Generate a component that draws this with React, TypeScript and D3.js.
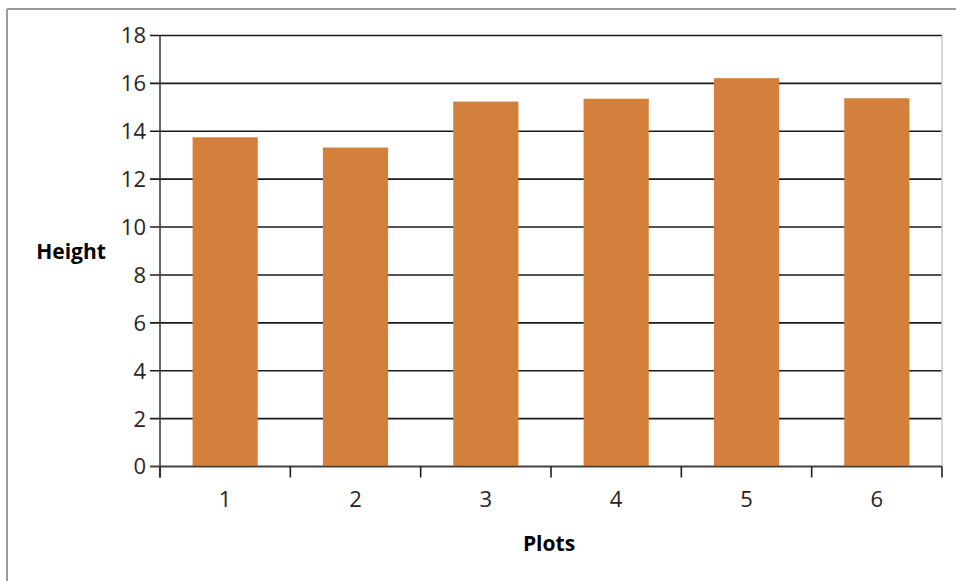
import React from "react";
import * as d3 from "d3";

const categories = ["1", "2", "3", "4", "5", "6"];
const heights = [13.75, 13.32, 15.24, 15.36, 16.22, 15.38];
const yTicks = [0, 2, 4, 6, 8, 10, 12, 14, 16, 18];

const W = 956;
const H = 581;
const left = 160;
const right = 942;
const top = 35.5;
const bottom = 466.5;
const font = "'Open Sans', 'Segoe UI', sans-serif";

export default function App() {
  const x = d3.scaleBand<string>().domain(categories).range([left, right]).paddingInner(0.5).paddingOuter(0.25);
  const y = d3.scaleLinear().domain([0, 18]).range([bottom, top]);
  const bandEdges = d3.range(categories.length + 1).map((i) => left + (i * (right - left)) / categories.length);

  return (
    <svg width={W} height={H} style={{ position: "absolute", left: 0, top: 0, background: "#fff" }}>
      <rect x={0} y={0} width={W} height={H} fill="#fff" />
      {/* outer frame */}
      <line x1={7} x2={W} y1={9} y2={9} stroke="#9a9a9a" strokeWidth={2} />
      <line x1={7} x2={7} y1={9} y2={H} stroke="#9a9a9a" strokeWidth={2} />
      {/* gridlines */}
      {yTicks.map((t) => (
        <line key={t} x1={150} x2={right} y1={y(t)} y2={y(t)} stroke="#1a1a1a" strokeWidth={1.6} />
      ))}
      {/* right plot border */}
      <line x1={right} x2={right} y1={top} y2={bottom} stroke="#c8c8c8" strokeWidth={1.5} />
      {/* bars */}
      {heights.map((v, i) => (
        <rect
          key={i}
          x={x(categories[i])!}
          y={y(v)}
          width={x.bandwidth()}
          height={y(0) - y(v)}
          fill="#D3803C"
        />
      ))}
      {/* axes */}
      <line x1={left} x2={left} y1={top} y2={bottom + 11} stroke="#404040" strokeWidth={1.6} />
      <line x1={150} x2={right} y1={bottom} y2={bottom} stroke="#404040" strokeWidth={1.6} />
      {bandEdges.map((e, i) => (
        <line key={i} x1={e} x2={e} y1={bottom} y2={bottom + 11} stroke="#202020" strokeWidth={1.6} />
      ))}
      {/* y tick labels */}
      {yTicks.map((t) => (
        <text
          key={t}
          x={146}
          y={y(t)}
          dy="0.36em"
          textAnchor="end"
          fontFamily={font}
          fontSize={22}
          fill="#262626"
        >
          {t}
        </text>
      ))}
      {/* x tick labels */}
      {categories.map((c) => (
        <text
          key={c}
          x={x(c)! + x.bandwidth() / 2}
          y={507}
          textAnchor="middle"
          fontFamily={font}
          fontSize={22}
          fill="#262626"
        >
          {c}
        </text>
      ))}
      <text x={71} y={259} textAnchor="middle" fontFamily={font} fontSize={21} fontWeight="bold" fill="#000">
        Height
      </text>
      <text x={549} y={551} textAnchor="middle" fontFamily={font} fontSize={21} fontWeight="bold" fill="#000">
        Plots
      </text>
    </svg>
  );
}
